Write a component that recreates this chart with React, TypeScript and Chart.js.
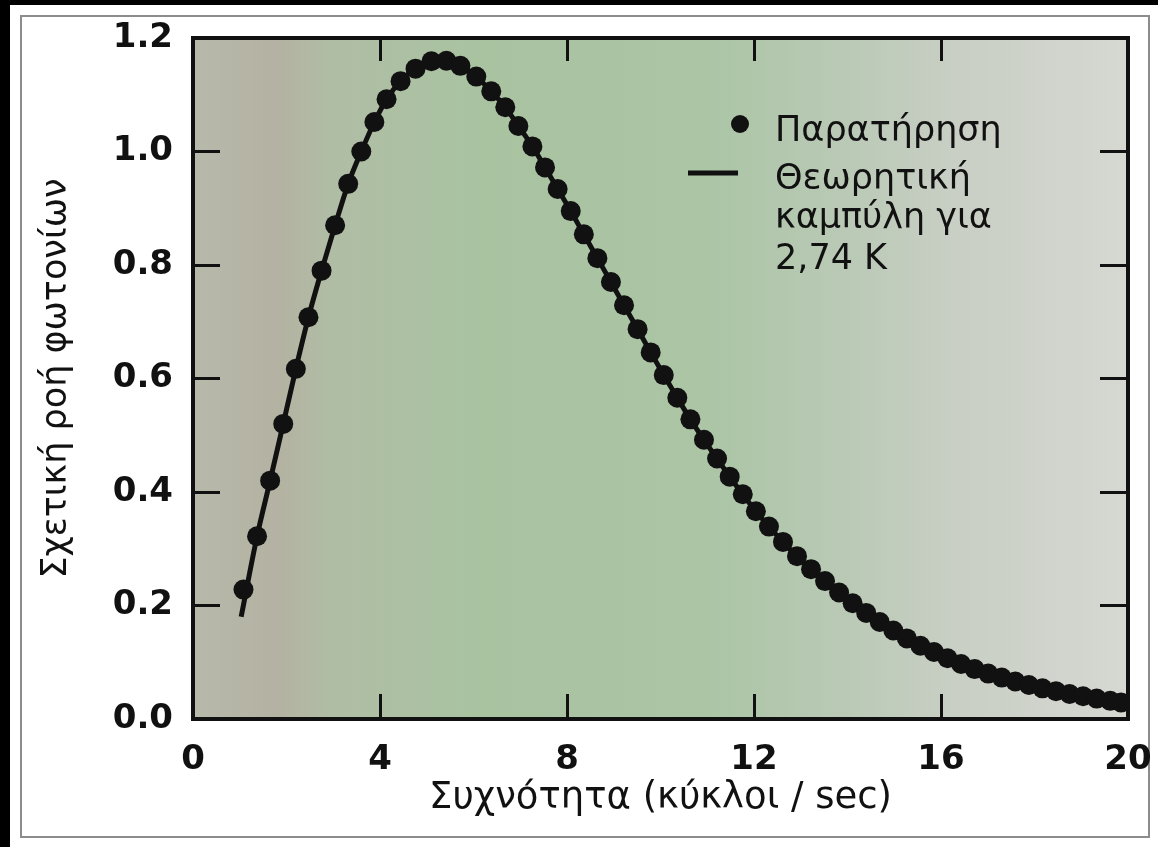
import { useEffect, useRef } from "react";
import { Chart, registerables } from "chart.js";

Chart.register(...registerables);

const obsX = [
  1.08, 1.37, 1.65, 1.93, 2.2, 2.47, 2.75, 3.04, 3.32, 3.6, 3.88, 4.14, 4.44, 4.76, 5.1, 5.42,
  5.72, 6.06, 6.38, 6.68, 6.96, 7.26, 7.53, 7.8, 8.08, 8.36, 8.65, 8.94, 9.22, 9.51, 9.79,
  10.07, 10.36, 10.64, 10.93, 11.21, 11.48, 11.76, 12.04, 12.32, 12.62, 12.92, 13.22, 13.52,
  13.82, 14.11, 14.4, 14.69, 14.98, 15.27, 15.56, 15.85, 16.14, 16.43, 16.72, 17.01, 17.3,
  17.59, 17.88, 18.17, 18.46, 18.75, 19.04, 19.33, 19.62, 19.85,
];
const obsY = [
  0.228, 0.322, 0.42, 0.52, 0.617, 0.708, 0.79, 0.87, 0.943, 1.0, 1.052, 1.092, 1.124, 1.146,
  1.159, 1.16, 1.151, 1.132, 1.106, 1.078, 1.045, 1.009, 0.972, 0.934, 0.895, 0.854, 0.812,
  0.77, 0.729, 0.687, 0.646, 0.606, 0.566, 0.528, 0.492, 0.459, 0.427, 0.396, 0.366, 0.339,
  0.312, 0.287, 0.264, 0.243, 0.223, 0.204, 0.187, 0.171, 0.156, 0.142, 0.129, 0.118, 0.107,
  0.097, 0.088, 0.08, 0.073, 0.066, 0.06, 0.054, 0.049, 0.044, 0.04, 0.036, 0.032, 0.029,
];
// Theoretical curve: starts a little below the first observation, then follows the points
const theoryStartX = [1.03];
const theoryStartY = [0.18];
const theoryX = [...theoryStartX, ...obsX.slice(1)];
const theoryY = [...theoryStartY, ...obsY.slice(1)];

const xTickLabels = ["0", "4", "8", "12", "16", "20"];
const yTickLabels = ["0.0", "0.2", "0.4", "0.6", "0.8", "1.0", "1.2"];

const xTitle = "Συχνότητα (κύκλοι / sec)";
const yTitle = "Σχετική ροή φωτονίων";
const obsLabel = "Παρατήρηση";
const theoryLabelLines = ["Θεωρητική", "καμπύλη για", "2,74 K"];

const INK = "#111111";
const FONT = "'DejaVu Sans', 'Noto Sans', sans-serif";

const areaBackground = {
  id: "areaBackground",
  beforeDraw(chart: any) {
    const { ctx, chartArea } = chart;
    if (!chartArea) return;
    const { left, top, right, bottom } = chartArea;
    const g = ctx.createLinearGradient(left, 0, right, 0);
    g.addColorStop(0.0, "#b7b9ab");
    g.addColorStop(0.09, "#b4b2a2");
    g.addColorStop(0.15, "#b0bda5");
    g.addColorStop(0.3, "#a9c3a1");
    g.addColorStop(0.55, "#abc5a5");
    g.addColorStop(0.7, "#bac9b6");
    g.addColorStop(0.82, "#c9cfc5");
    g.addColorStop(1.0, "#d6d8d2");
    ctx.save();
    ctx.fillStyle = g;
    ctx.fillRect(left, top, right - left, bottom - top);
    ctx.restore();
  },
};

const innerLegend = {
  id: "innerLegend",
  afterDraw(chart: any) {
    const { ctx, chartArea } = chart;
    const ox = chartArea.left;
    const oy = chartArea.top;
    ctx.save();
    ctx.fillStyle = INK;
    ctx.strokeStyle = INK;
    // marker for observations
    ctx.beginPath();
    ctx.arc(ox + 547, oy + 86, 9, 0, Math.PI * 2);
    ctx.fill();
    // line sample for theory
    ctx.lineWidth = 5;
    ctx.beginPath();
    ctx.moveTo(ox + 495, oy + 135);
    ctx.lineTo(ox + 545, oy + 135);
    ctx.stroke();
    ctx.font = `35px ${FONT}`;
    ctx.textAlign = "left";
    ctx.textBaseline = "alphabetic";
    const tx = ox + 582;
    ctx.fillText(obsLabel, tx, oy + 103);
    const baselines = [151, 190, 231];
    theoryLabelLines.forEach((t, i) => ctx.fillText(t, tx, oy + baselines[i]));
    ctx.restore();
  },
};

export default function App() {
  const canvasRef = useRef<HTMLCanvasElement | null>(null);

  useEffect(() => {
    const canvas = canvasRef.current;
    if (!canvas) return;
    const chart = new Chart(canvas, {
      type: "scatter",
      data: {
        datasets: [
          {
            label: obsLabel,
            data: obsX.map((x, i) => ({ x, y: obsY[i] })),
            showLine: false,
            pointRadius: 10,
            pointBackgroundColor: INK,
            pointBorderWidth: 0,
            pointBorderColor: INK,
          },
          {
            label: theoryLabelLines.join(" "),
            type: "line",
            data: theoryX.map((x, i) => ({ x, y: theoryY[i] })),
            showLine: true,
            borderColor: INK,
            borderWidth: 5,
            pointRadius: 0,
            cubicInterpolationMode: "monotone",
            fill: false,
          } as any,
        ],
      },
      options: {
        animation: false,
        responsive: false,
        maintainAspectRatio: false,
        devicePixelRatio: 1,
        layout: { padding: 0 },
        plugins: {
          legend: { display: false },
          tooltip: { enabled: false },
        },
        scales: {
          x: {
            type: "linear",
            position: "bottom",
            min: 0,
            max: 20,
            ticks: {
              stepSize: 4,
              padding: 46,
              color: INK,
              maxRotation: 0,
              autoSkip: false,
              font: { family: FONT, size: 34, weight: "bold" },
              callback: (_v: any, i: number) => xTickLabels[i],
            },
            grid: { drawOnChartArea: false, drawTicks: true, tickLength: -25, tickWidth: 3, tickColor: INK },
            border: { display: true, color: INK, width: 4 },
            title: {
              display: true,
              text: xTitle,
              color: INK,
              font: { family: FONT, size: 37 },
              padding: { top: 0, bottom: 26 },
            },
            afterFit: (s: any) => {
              s.height = 128;
              s.paddingLeft = 0;
              s.paddingRight = 0;
            },
          },
          x2: {
            type: "linear",
            position: "top",
            min: 0,
            max: 20,
            ticks: { display: false, stepSize: 4 },
            grid: { drawOnChartArea: false, drawTicks: true, tickLength: -23, tickWidth: 3, tickColor: INK },
            border: { display: true, color: INK, width: 4 },
            afterFit: (s: any) => {
              s.height = 38;
              s.paddingLeft = 0;
              s.paddingRight = 0;
            },
          },
          y: {
            type: "linear",
            position: "left",
            min: 0,
            max: 1.2,
            ticks: {
              stepSize: 0.2,
              padding: 47,
              color: INK,
              font: { family: FONT, size: 34, weight: "bold" },
              callback: (_v: any, i: number) => yTickLabels[i],
            },
            grid: { drawOnChartArea: false, drawTicks: true, tickLength: -27, tickWidth: 3, tickColor: INK },
            border: { display: true, color: INK, width: 4 },
            title: {
              display: true,
              text: yTitle,
              color: INK,
              font: { family: FONT, size: 35 },
              padding: { top: 36, bottom: 0 },
            },
            afterFit: (s: any) => {
              s.width = 193;
              s.paddingTop = 0;
              s.paddingBottom = 0;
            },
          },
          y2: {
            type: "linear",
            position: "right",
            min: 0,
            max: 1.2,
            ticks: { display: false, stepSize: 0.2 },
            grid: { drawOnChartArea: false, drawTicks: true, tickLength: -28, tickWidth: 3, tickColor: INK },
            border: { display: true, color: INK, width: 4 },
            afterFit: (s: any) => {
              s.width = 30;
              s.paddingTop = 0;
              s.paddingBottom = 0;
            },
          },
        },
      } as any,
      plugins: [areaBackground, innerLegend],
    });
    return () => chart.destroy();
  }, []);

  return (
    <div
      style={{
        position: "fixed",
        left: 0,
        top: 0,
        width: 1158,
        height: 847,
        background: "#ffffff",
        overflow: "hidden",
      }}
    >
      <div style={{ position: "absolute", left: 0, top: 0, width: 1158, height: 5, background: "#000" }} />
      <div style={{ position: "absolute", left: 0, top: 0, width: 10, height: 847, background: "#000" }} />
      <div
        style={{
          position: "absolute",
          left: 20,
          top: 15,
          width: 1130,
          height: 823,
          border: "2px solid #8c8c8c",
          boxSizing: "border-box",
        }}
      />
      <canvas
        ref={canvasRef}
        width={1158}
        height={847}
        style={{ position: "absolute", left: 0, top: 0, width: 1158, height: 847, display: "block" }}
      />
    </div>
  );
}
